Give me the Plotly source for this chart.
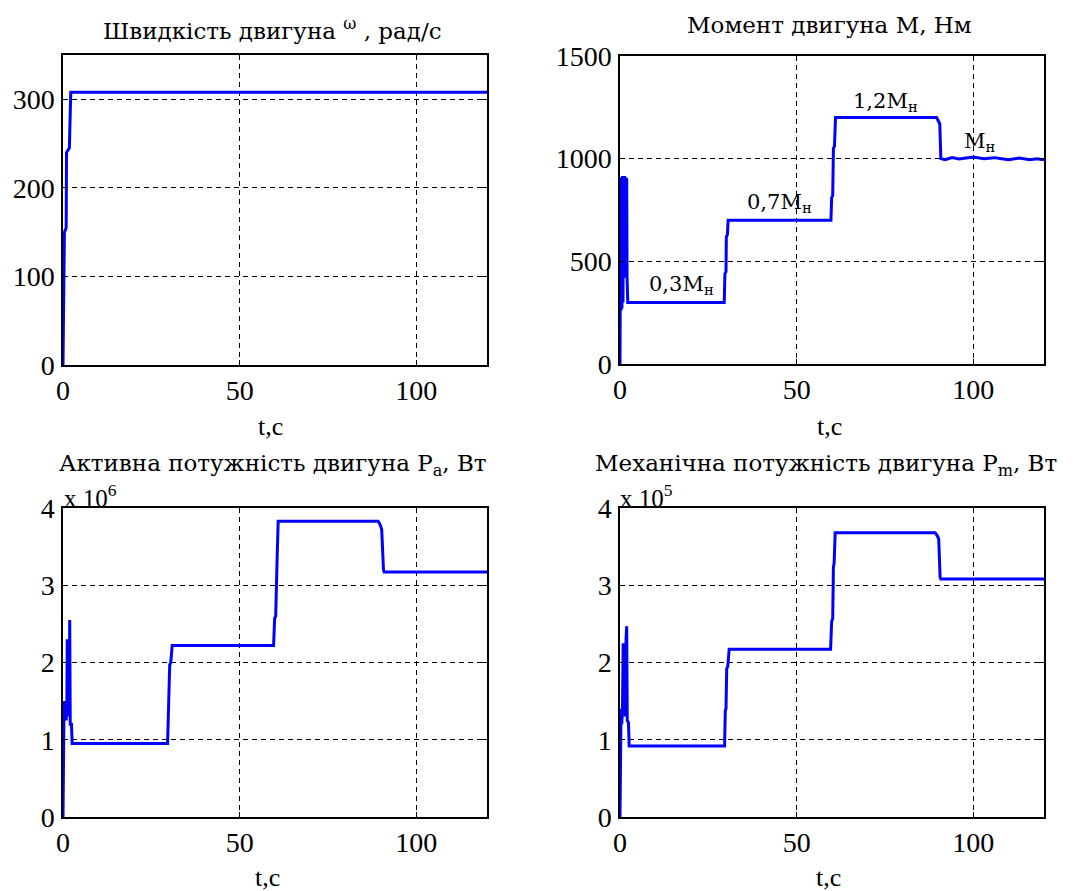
import plotly.graph_objects as go

# ---------------- data ----------------
# Motor speed, rad/s
t_speed = [0, 0.4, 0.9, 1.0, 1.8, 2.2, 30, 60, 90, 120]
speed = [0, 150, 155, 240, 245, 308, 308, 308, 308, 308]

# Motor torque, N*m
t_torque = [0, 0.1, 0.2, 0.3, 0.4, 0.55, 0.7, 0.85, 1.0, 1.15, 1.3, 1.45, 1.6, 1.75, 1.9, 2.0, 2.2,
            29.5, 29.7, 30.0, 30.1, 30.4, 30.6,
            59.7, 59.9, 60.2, 60.4, 60.7, 61.0,
            89.6, 90.0, 90.5, 90.8,
            92, 94, 96, 98, 100, 103, 106, 108, 110, 113, 116, 118, 120]
torque = [0, 250, 900, 260, 910, 270, 915, 300, 910, 420, 915, 430, 910, 430, 905, 420, 300,
          300, 440, 450, 620, 630, 700,
          700, 810, 820, 1050, 1060, 1200,
          1200, 1185, 1170, 1000,
          995, 1005, 998, 1003, 1008, 1000, 1005, 1000, 995, 1003, 995, 1000, 995]

# Active power, x 10^6 W
t_pa = [0, 0.3, 0.5, 0.7, 0.9, 1.1, 1.2, 1.4, 1.6, 1.8, 1.9, 2.05, 2.4, 2.6,
        29.6, 29.8, 30.0, 30.2, 30.5, 30.9,
        59.6, 59.9, 60.2, 60.4, 60.6, 60.9,
        89.2, 89.8, 90.2, 90.7, 90.9, 120]
pa = [0, 1.5, 1.25, 1.5, 1.25, 1.5, 2.3, 1.3, 2.3, 1.3, 2.55, 1.2, 1.2, 0.95,
      0.95, 1.38, 1.4, 1.97, 2.0, 2.22,
      2.22, 2.57, 2.6, 3.31, 3.35, 3.83,
      3.83, 3.78, 3.72, 3.2, 3.17, 3.17]

# Mechanical power, x 10^5 W
t_pm = [0, 0.3, 0.5, 0.7, 0.9, 1.1, 1.3, 1.5, 1.7, 1.9, 2.05, 2.4, 2.6,
        29.6, 29.8, 30.0, 30.2, 30.5, 30.9,
        59.6, 59.9, 60.2, 60.4, 60.6, 60.9,
        89.2, 89.8, 90.2, 90.6, 90.8, 120]
pm = [0, 1.4, 1.2, 1.4, 2.25, 1.3, 2.25, 1.3, 2.3, 2.47, 1.25, 1.22, 0.92,
      0.92, 1.38, 1.4, 1.92, 1.95, 2.17,
      2.17, 2.53, 2.57, 3.24, 3.28, 3.68,
      3.68, 3.64, 3.6, 3.1, 3.08, 3.08]

x_ticks = [0, 50, 100]
speed_ticks = [0, 100, 200, 300]
torque_ticks = [0, 500, 1000, 1500]
power_ticks = [0, 1, 2, 3, 4]

load_labels = ["0,3M<sub>н</sub>", "0,7M<sub>н</sub>", "1,2M<sub>н</sub>", "M<sub>н</sub>"]
load_label_t = [17.5, 45, 75, 102]
load_label_m = [386, 786, 1275, 1080]

titles = ["Швидкість двигуна <sup>ω</sup> , рад/с", "Момент двигуна М, Нм",
          "Активна потужність двигуна P<sub>a</sub>, Вт", "Механічна потужність двигуна P<sub>m</sub>, Вт"]
xlabel = "t,c"

# ---------------- layout helpers ----------------
PAGE_OFF = 8            # default body margin of the page
W, H = 1085 - PAGE_OFF, 891 - PAGE_OFF
FONT = "Liberation Serif"
CYR_FONT = "DejaVu Serif"


def px(x):
    return (x - PAGE_OFF) / W


def py(y):
    return 1 - (y - PAGE_OFF) / H


fig = go.Figure()

panels = [
    dict(x=t_speed, y=speed, xa="x", ya="y", dom_x=(63, 487), dom_y=(55, 365), yr=[0, 350], yt=speed_ticks),
    dict(x=t_torque, y=torque, xa="x2", ya="y2", dom_x=(620, 1044), dom_y=(56, 364), yr=[0, 1500], yt=torque_ticks),
    dict(x=t_pa, y=pa, xa="x3", ya="y3", dom_x=(63, 487), dom_y=(508, 817), yr=[0, 4], yt=power_ticks),
    dict(x=t_pm, y=pm, xa="x4", ya="y4", dom_x=(620, 1044), dom_y=(508, 817), yr=[0, 4], yt=power_ticks),
]

axis_common = dict(
    showline=True, linecolor="black", linewidth=1.5, mirror="ticks",
    ticks="inside", ticklen=5, tickwidth=1, tickcolor="black",
    showgrid=True, gridcolor="black", gridwidth=1, griddash="5px,4px",
    zeroline=False, automargin=False,
    tickfont=dict(family=FONT, size=28, color="black"),
)

for i, p in enumerate(panels, start=1):
    fig.add_trace(go.Scatter(x=p["x"], y=p["y"], mode="lines",
                             line=dict(color="#0000FF", width=3),
                             xaxis=p["xa"], yaxis=p["ya"], showlegend=False,
                             hoverinfo="skip"))
    sfx = "" if i == 1 else str(i)
    fig.update_layout(**{
        "xaxis" + sfx: dict(axis_common, domain=[px(p["dom_x"][0]), px(p["dom_x"][1])],
                            range=[0, 120], tickvals=x_ticks, anchor="y" + sfx,
                            ticklabelstandoff=0),
        "yaxis" + sfx: dict(axis_common, domain=[py(p["dom_y"][1]), py(p["dom_y"][0])],
                            range=p["yr"], tickvals=p["yt"], anchor="x" + sfx,
                            ticklabelstandoff=1),
    })

ann = []
# titles
for txt, (cx, cy) in zip(titles, [(272, 29), (829, 25), (273, 465), (826, 465)]):
    ann.append(dict(text=txt, x=px(cx), y=py(cy), xref="paper", yref="paper",
                    xanchor="center", yanchor="middle", showarrow=False,
                    font=dict(family=CYR_FONT, size=23, color="black")))
# x labels
for (cx, cy) in [(270, 426), (829, 426), (267, 877), (828, 877)]:
    ann.append(dict(text=xlabel, x=px(cx), y=py(cy), xref="paper", yref="paper",
                    xanchor="center", yanchor="middle", showarrow=False,
                    font=dict(family=FONT, size=26, color="black")))
# exponent labels
for txt, (lx, cy) in [("x 10<sup>6</sup>", (62, 496)), ("x 10<sup>5</sup>", (618, 496))]:
    ann.append(dict(text=txt, x=px(lx), y=py(cy), xref="paper", yref="paper",
                    xanchor="left", yanchor="middle", showarrow=False,
                    font=dict(family=FONT, size=25, color="black")))
# load labels on torque plot
for txt, tx, my in zip(load_labels, load_label_t, load_label_m):
    ann.append(dict(text=txt, x=tx, y=my, xref="x2", yref="y2",
                    xanchor="center", yanchor="middle", showarrow=False,
                    font=dict(family=CYR_FONT, size=21, color="black")))

fig.update_layout(
    width=W, height=H, autosize=False,
    margin=dict(l=0, r=0, t=0, b=0, autoexpand=False),
    paper_bgcolor="white", plot_bgcolor="white",
    showlegend=False, annotations=ann,
)

fig.write_html("out.html")
